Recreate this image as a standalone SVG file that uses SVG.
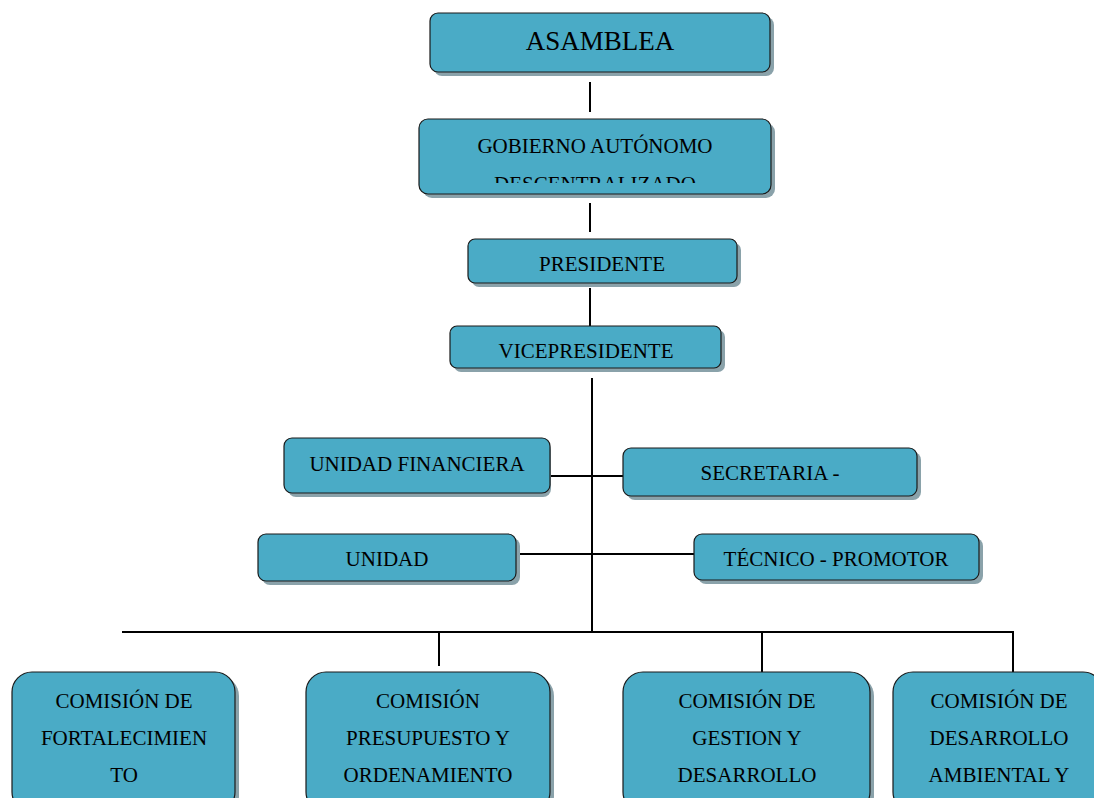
<svg xmlns="http://www.w3.org/2000/svg" width="1094" height="798" viewBox="0 0 1094 798">
<style>
.sh{fill:#8aa2aa}
.bx{fill:#4aabc6;stroke:#1a1a1a;stroke-width:1.2}
.t{font-family:"Liberation Serif","Times New Roman",serif;font-size:21px;fill:#000;text-anchor:middle}
.ln{stroke:#000;stroke-width:2;fill:none}
</style>
<defs>
<clipPath id="clipG"><rect x="419" y="119" width="352" height="64"/></clipPath>
</defs>
<rect width="1094" height="798" fill="#fff"/>
<g id="connectors">
<line class="ln" x1="590" y1="82" x2="590" y2="112"/>
<line class="ln" x1="590" y1="203" x2="590" y2="232"/>
<line class="ln" x1="590" y1="288" x2="590" y2="326"/>
<line class="ln" x1="592" y1="378" x2="592" y2="632"/>
<line class="ln" x1="551" y1="476" x2="623" y2="476"/>
<line class="ln" x1="516" y1="554" x2="694" y2="554"/>
<line class="ln" x1="122" y1="632" x2="1014" y2="632"/>
<line class="ln" x1="439" y1="632" x2="439" y2="666"/>
<line class="ln" x1="762" y1="632" x2="762" y2="672"/>
<line class="ln" x1="1013" y1="632" x2="1013" y2="672"/>
</g>
<g id="asamblea">
<rect class="sh" x="434" y="17" width="340" height="59" rx="8"/>
<rect class="bx" x="430" y="13" width="340" height="59" rx="8"/>
<text class="t" x="600" y="50" style="font-size:27px">ASAMBLEA</text>
</g>
<g id="gobierno">
<rect class="sh" x="423" y="123" width="352" height="75" rx="9"/>
<rect class="bx" x="419" y="119" width="352" height="75" rx="9"/>
<g clip-path="url(#clipG)">
<text class="t" x="595" y="153">GOBIERNO AUTÓNOMO</text>
<text class="t" x="595" y="191">DESCENTRALIZADO</text>
</g>
</g>
<g id="presidente">
<rect class="sh" x="472" y="243" width="269" height="44" rx="7"/>
<rect class="bx" x="468" y="239" width="269" height="44" rx="7"/>
<text class="t" x="602" y="271">PRESIDENTE</text>
</g>
<g id="vicepresidente">
<rect class="sh" x="454" y="330" width="271" height="42" rx="7"/>
<rect class="bx" x="450" y="326" width="271" height="42" rx="7"/>
<text class="t" x="586" y="358">VICEPRESIDENTE</text>
</g>
<g id="unidad-financiera">
<rect class="sh" x="288" y="442" width="263" height="55" rx="8"/>
<rect class="bx" x="284" y="438" width="266" height="55" rx="8"/>
<text class="t" x="417" y="471">UNIDAD FINANCIERA</text>
</g>
<g id="secretaria">
<rect class="sh" x="627" y="452" width="294" height="48" rx="8"/>
<rect class="bx" x="623" y="448" width="294" height="48" rx="8"/>
<text class="t" x="770" y="480">SECRETARIA -</text>
</g>
<g id="unidad">
<rect class="sh" x="262" y="538" width="258" height="47" rx="8"/>
<rect class="bx" x="258" y="534" width="258" height="47" rx="8"/>
<text class="t" x="387" y="566">UNIDAD</text>
</g>
<g id="tecnico">
<rect class="sh" x="698" y="538" width="285" height="46" rx="8"/>
<rect class="bx" x="694" y="534" width="285" height="46" rx="8"/>
<text class="t" x="836" y="566">TÉCNICO - PROMOTOR</text>
</g>
<g id="comision-fortalecimiento">
<rect class="sh" x="16" y="676" width="223" height="140" rx="20"/>
<rect class="bx" x="12" y="672" width="223" height="140" rx="20"/>
<text class="t" x="124" y="708">COMISIÓN DE</text>
<text class="t" x="124" y="745">FORTALECIMIEN</text>
<text class="t" x="124" y="782">TO</text>
</g>
<g id="comision-presupuesto">
<rect class="sh" x="310" y="676" width="244" height="140" rx="20"/>
<rect class="bx" x="306" y="672" width="244" height="140" rx="20"/>
<text class="t" x="428" y="708">COMISIÓN</text>
<text class="t" x="428" y="745">PRESUPUESTO Y</text>
<text class="t" x="428" y="782">ORDENAMIENTO</text>
</g>
<g id="comision-gestion">
<rect class="sh" x="627" y="676" width="247" height="140" rx="20"/>
<rect class="bx" x="623" y="672" width="247" height="140" rx="20"/>
<text class="t" x="747" y="708">COMISIÓN DE</text>
<text class="t" x="747" y="745">GESTION Y</text>
<text class="t" x="747" y="782">DESARROLLO</text>
</g>
<g id="comision-ambiental">
<rect class="sh" x="897" y="676" width="210" height="140" rx="20"/>
<rect class="bx" x="893" y="672" width="210" height="140" rx="20"/>
<text class="t" x="999" y="708">COMISIÓN DE</text>
<text class="t" x="999" y="745">DESARROLLO</text>
<text class="t" x="999" y="782">AMBIENTAL Y</text>
</g>
</svg>
